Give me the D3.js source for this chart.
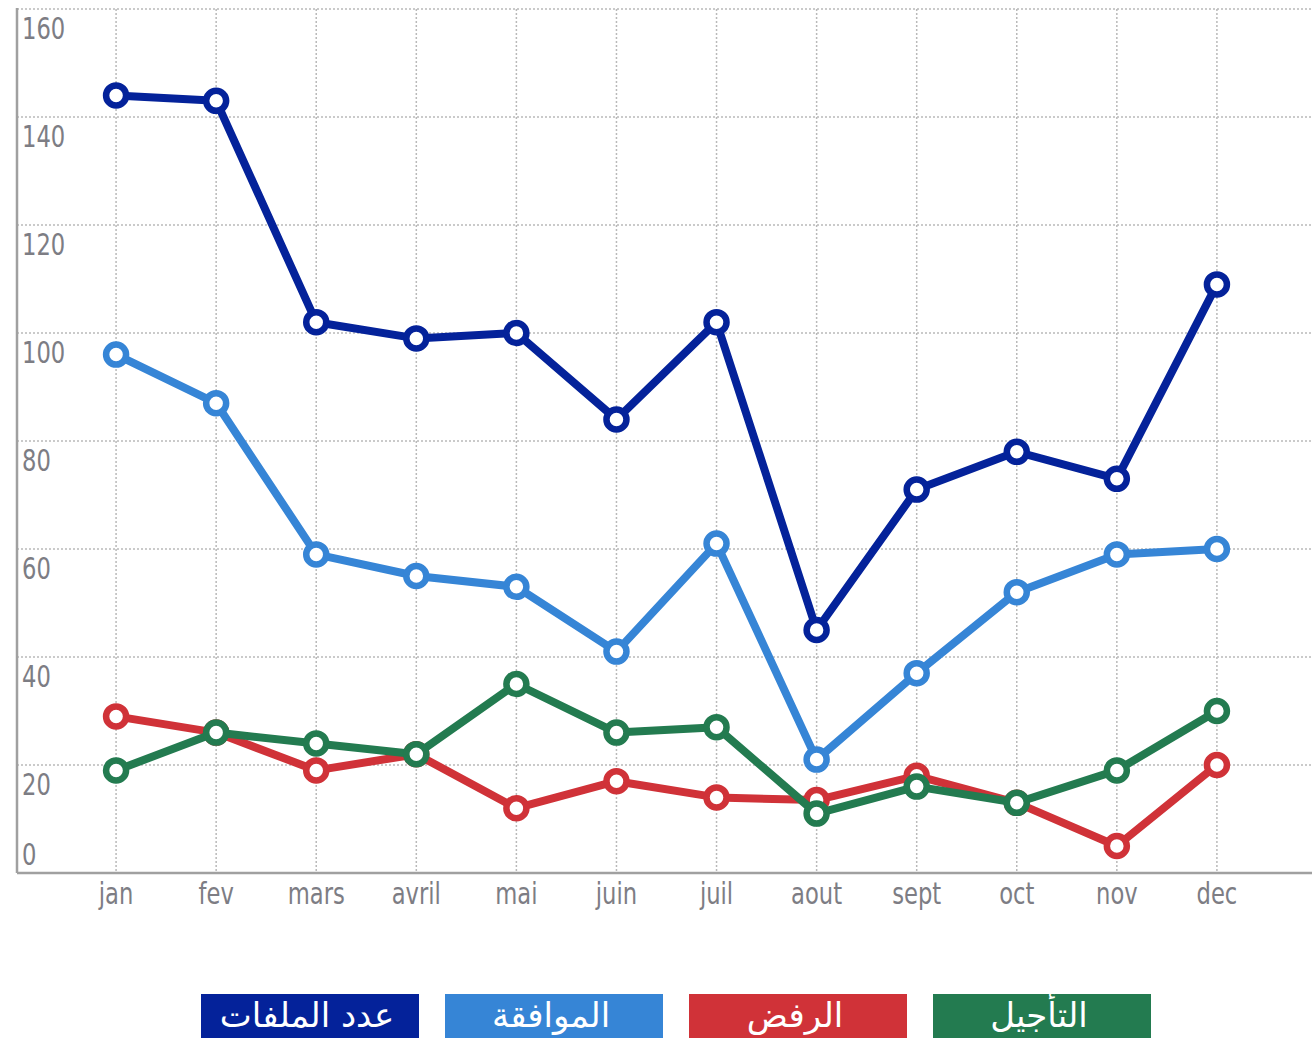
<!DOCTYPE html>
<html>
<head>
<meta charset="utf-8">
<script src="https://cdn.jsdelivr.net/npm/d3@7"></script>
<style>
  html, body { margin: 0; padding: 0; background: #fff; }
  svg { display: block; }
  .tick-label { font-family: 'Liberation Sans Narrow', 'DejaVu Sans Condensed', sans-serif; fill: #7d7d84; }
  .legend-text { font-family: 'DejaVu Sans', sans-serif; fill: #fff; }
</style>
</head>
<body>
<div id="chart"></div>
<script>
const WIDTH = 1312
const HEIGHT = 1043
const MONTHS = ['jan', 'fev', 'mars', 'avril', 'mai', 'juin', 'juil', 'aout', 'sept', 'oct', 'nov', 'dec']
const Y_TICKS = [0, 20, 40, 60, 80, 100, 120, 140, 160]

const FILES = [144, 143, 102, 99, 100, 84, 102, 45, 71, 78, 73, 109]
const APPROVED = [96, 87, 59, 55, 53, 41, 61, 21, 37, 52, 59, 60]
const REJECTED = [29, 26, 19, 22, 12, 17, 14, 13.5, 18, 13, 5, 20]
const POSTPONED = [19, 26, 24, 22, 35, 26, 27, 11, 16, 13, 19, 30]

const SERIES_NAMES = ['عدد الملفات', 'الموافقة', 'الرفض', 'التأجيل']
const SERIES_COLORS = ['#04229a', '#3685d6', '#d03238', '#237b50']
const SERIES = [FILES, APPROVED, REJECTED, POSTPONED]

const LEFT = 17
const TOP = 9
const BASE = 873
const NARROW = 0.84

var svg = d3.select('#chart').append('svg')
  .attr('width', WIDTH).attr('height', HEIGHT)

// x: month i sits at index i + 1, axis at index 0
var x = d3.scaleLinear().domain([0, 13]).range([16, 1317])
var y = d3.scaleLinear().domain([0, 160]).range([BASE, TOP])

// horizontal grid
svg.append('g').attr('class', 'grid')
  .selectAll('line').data(Y_TICKS.filter(d => d > 0)).enter()
  .append('line')
  .attr('x1', LEFT).attr('x2', WIDTH)
  .attr('y1', d => y(d)).attr('y2', d => y(d))
  .attr('stroke', '#b9b9b9').attr('stroke-width', 1.5)
  .attr('stroke-dasharray', '2,2')

// vertical grid
svg.append('g').attr('class', 'grid')
  .selectAll('line').data(MONTHS).enter()
  .append('line')
  .attr('x1', (d, i) => x(i + 1)).attr('x2', (d, i) => x(i + 1))
  .attr('y1', TOP).attr('y2', BASE)
  .attr('stroke', '#b9b9b9').attr('stroke-width', 1.5)
  .attr('stroke-dasharray', '2,2')

// axes lines
svg.append('line').attr('x1', LEFT).attr('x2', LEFT).attr('y1', TOP - 1).attr('y2', BASE)
  .attr('stroke', '#a0a0a0').attr('stroke-width', 2.5)
svg.append('line').attr('x1', LEFT).attr('x2', WIDTH).attr('y1', BASE).attr('y2', BASE)
  .attr('stroke', '#a0a0a0').attr('stroke-width', 2.5)

// y labels (squeezed horizontally to look condensed)
svg.append('g').selectAll('text').data(Y_TICKS).enter()
  .append('text')
  .attr('class', 'tick-label')
  .attr('transform', d => `translate(22, ${d === 0 ? y(d) - 8 : y(d) + 30}) scale(${NARROW}, 1)`)
  .attr('font-size', 30)
  .text(d => d)

// x labels
svg.append('g').selectAll('text').data(MONTHS).enter()
  .append('text')
  .attr('class', 'tick-label')
  .attr('transform', (d, i) => `translate(${x(i + 1)}, ${BASE + 31}) scale(${NARROW}, 1)`)
  .attr('text-anchor', 'middle')
  .attr('font-size', 30)
  .text(d => d)

// lines + markers
var line = d3.line()
  .x((d, i) => x(i + 1))
  .y(d => y(d))

SERIES.forEach((data, k) => {
  var g = svg.append('g').attr('class', 'series')
  g.append('path')
    .datum(data)
    .attr('d', line)
    .attr('fill', 'none')
    .attr('stroke', SERIES_COLORS[k])
    .attr('stroke-width', 8)
    .attr('stroke-linejoin', 'round')

  g.selectAll('circle').data(data).enter()
    .append('circle')
    .attr('cx', (d, i) => x(i + 1))
    .attr('cy', d => y(d))
    .attr('r', 10)
    .attr('fill', '#fff')
    .attr('stroke', SERIES_COLORS[k])
    .attr('stroke-width', 6.5)
})

// legend
var legendX = d3.scaleLinear().domain([0, 1]).range([201, 445])
var legend = svg.append('g').attr('class', 'legend')
  .selectAll('g').data(SERIES_NAMES).enter()
  .append('g')
  .attr('transform', (d, i) => `translate(${legendX(i)}, 994)`)

legend.append('rect')
  .attr('width', 218).attr('height', 44)
  .attr('fill', (d, i) => SERIES_COLORS[i])

legend.append('text')
  .attr('class', 'legend-text')
  .attr('x', 106).attr('y', 33)
  .attr('text-anchor', 'middle')
  .attr('font-size', 34)
  .attr('direction', 'rtl')
  .text(d => d)
</script>
</body>
</html>
